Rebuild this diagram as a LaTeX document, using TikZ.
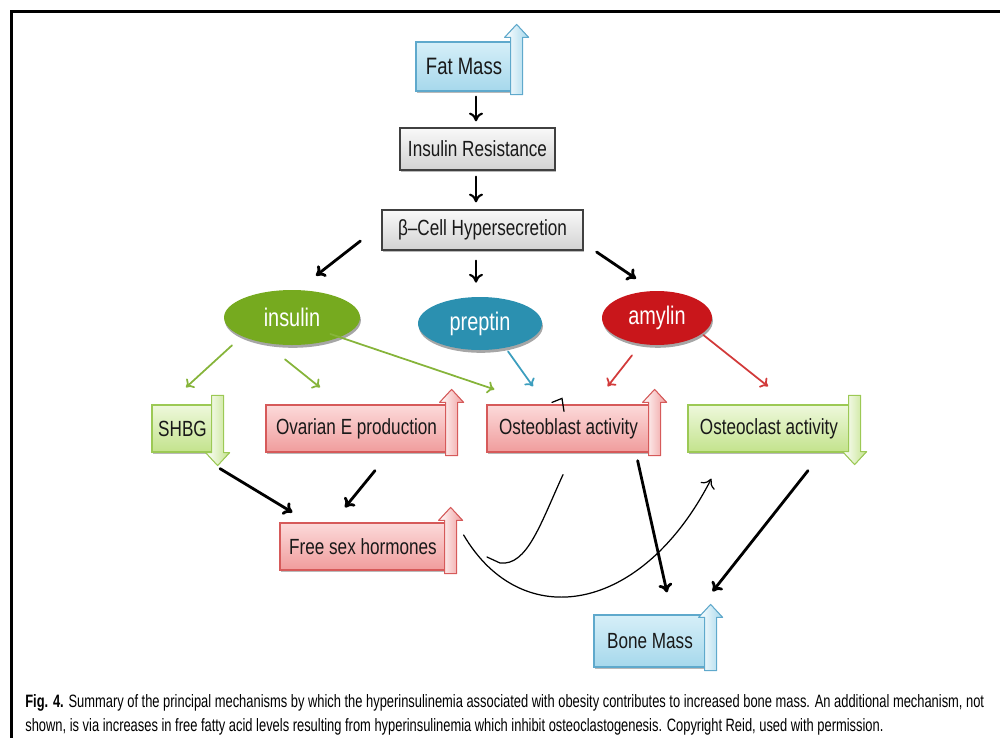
\documentclass[tikz,border=0pt]{standalone}
\usepackage{fontspec}
\newfontfamily\cajafont{Liberation Sans}[FakeStretch=0.78]
\newfontfamily\piefont{Liberation Sans}[FakeStretch=0.72]
\usetikzlibrary{calc,shapes.geometric,shadows,arrows.meta}

\definecolor{azulb}{HTML}{5FA9CC}
\definecolor{azulc}{HTML}{D6EFF8}
\definecolor{azuld}{HTML}{A6D8EC}
\definecolor{grisb}{HTML}{404040}
\definecolor{verdeb}{HTML}{9CC955}
\definecolor{verdec}{HTML}{EEF8DC}
\definecolor{verded}{HTML}{C3E38C}
\definecolor{rojob}{HTML}{D65A5A}
\definecolor{rojoc}{HTML}{FCDADA}
\definecolor{rojod}{HTML}{F09C9C}
\definecolor{insul}{HTML}{76AA1F}
\definecolor{prept}{HTML}{2B90B0}
\definecolor{amyl}{HTML}{C9161B}
\definecolor{flverde}{HTML}{86B43A}
\definecolor{flazul}{HTML}{3C9EBE}
\definecolor{flrojo}{HTML}{D23A3A}

\tikzset{
  caja/.style={rectangle, line width=0.7pt, inner sep=0pt,
    font=\cajafont\fontsize{12.5}{14}\selectfont, text=black!90,
    drop shadow={shadow xshift=0.6pt, shadow yshift=-1.4pt, opacity=0.55}},
  cajagris/.style={caja, draw=grisb, top color=gray!5, bottom color=gray!35},
  cajaazul/.style={caja, draw=azulb, top color=azulc, bottom color=azuld},
  cajaverde/.style={caja, draw=verdeb, top color=verdec, bottom color=verded},
  cajaroja/.style={caja, draw=rojob, top color=rojoc, bottom color=rojod},
  bola/.style={ellipse, inner sep=0pt, text=white,
    font=\cajafont\fontsize{14.5}{16}\selectfont,
    drop shadow={shadow xshift=0.5pt, shadow yshift=-1.6pt, opacity=0.7}},
  tam/.style 2 args={minimum width=#1*0.02cm, minimum height=#2*0.02cm},
  flecha/.style={-{To[length=5pt,width=8pt]}, line width=1.6pt},
  fina/.style={-{To[length=4pt,width=7pt]}, line width=1pt},
  banda/.style={line width=0.6pt, line join=round},
}

% flecha de bloque pegada al lado derecho de una caja
\newcommand{\subida}[3]{%
  \filldraw[#2] ($(#1.south east)+(-2,3)$) -- ($(#1.north east)+(-2,13-#3)$)
    -- ++(-6,0) -- ($(#1.north east)+(4,-#3)$) -- ($(#1.north east)+(16,13-#3)$)
    -- ++(-6,0) -- ($(#1.south east)+(10,3)$) -- cycle;}
\newcommand{\bajada}[3]{%
  \filldraw[#2] ($(#1.north east)+(-2,-9)$) -- ($(#1.south east)+(-2,#3-13)$)
    -- ++(-6,0) -- ($(#1.south east)+(4,#3)$) -- ($(#1.south east)+(16,#3-13)$)
    -- ++(-6,0) -- ($(#1.north east)+(10,-9)$) -- cycle;}

\begin{document}
\begin{tikzpicture}[x=0.02cm, y=-0.02cm, line cap=round]
  \useasboundingbox (0,0) rectangle (1000,737);
  % el marco
  \draw[line width=2pt] (11.5,740) -- (11.5,11.5) -- (1003,11.5);

  % la cadena de arriba
  \node[cajaazul, tam={96}{49}] (fat) at (464,66.5) {\fontsize{13.5}{15}\selectfont Fat Mass};
  \node[cajagris, tam={155}{42}] (ir) at (477.5,149) {Insulin Resistance};
  \node[cajagris, tam={201}{40}] (beta) at (482.5,230) {β–Cell Hypersecretion};
  \subida{fat}{banda, draw=azulb, left color=white, right color=azuld}{17}

  % las tres hormonas
  \node[bola, fill=insul, tam={136}{55}] (insulin) at (292,317.5) {insulin};
  \node[bola, fill=prept, tam={124}{53}] (preptin) at (480,323.5) {preptin};
  \node[bola, fill=amyl, tam={110}{54}] (amylin) at (657,318) {amylin};

  % la fila de las cajas
  \node[cajaverde, tam={61}{47}] (shbg) at (182.5,428.5) {SHBG};
  \node[cajaroja, tam={181}{47}] (ovar) at (356.5,428.5) {Ovarian E production};
  \node[cajaroja, tam={163}{47}] (oblast) at (568.5,428.5) {Osteoblast activity};
  \node[cajaverde, tam={162}{47}] (oclast) at (769,428.5) {Osteoclast activity};
  \node[cajaroja, tam={166}{47}] (fsh) at (363,546.5) {Free sex hormones};
  \node[cajaazul, tam={112}{52}] (bone) at (650,641) {Bone Mass};
  \bajada{shbg}{banda, draw=verdeb, left color=white, right color=verded}{13}
  \subida{ovar}{banda, draw=rojob, left color=white, right color=rojod}{15}
  \subida{oblast}{banda, draw=rojob, left color=white, right color=rojod}{15}
  \bajada{oclast}{banda, draw=verdeb, left color=white, right color=verded}{12}
  \subida{fsh}{banda, draw=rojob, left color=white, right color=rojod}{15}
  \subida{bone}{banda, draw=azulb, left color=white, right color=azuld}{10}

  % flechas negras
  \draw[flecha, line width=1.2pt] ($(fat.south)+(12,5)$) -- ($(ir.north)+(-1.5,-6)$);
  \draw[flecha, line width=1.2pt] ($(ir.south)+(-1.5,6)$) -- ($(beta.north)+(-6.5,-7)$);
  \draw[flecha] ($(beta.west)+(-21,11)$) -- ($(insulin.north)+(24,-14)$);
  \draw[flecha, line width=1.2pt] ($(beta.south)+(-6.5,10)$) -- ($(preptin.north)+(-4,-14)$);
  \draw[flecha] ($(beta.east)+(13,22)$) -- ($(amylin.north)+(-21,-12)$);

  % flechas de color
  \draw[fina, draw=flverde] ($(insulin.south)+(-60,0)$) -- ($(shbg.north)+(3.5,-17)$);
  \draw[fina, draw=flverde] ($(insulin.south)+(-7,14)$) -- ($(ovar.north)+(-36.5,-17)$);
  \draw[fina, draw=flverde] ($(insulin.east)+(-30,16.5)$) -- ($(oblast.north west)+(8,-15)$);
  \draw[fina, draw=flazul] ($(preptin.south)+(28,1)$) -- ($(oblast.north)+(-35.5,-18)$);
  \draw[fina, draw=flrojo] ($(amylin.south)+(-25,10)$) -- ($(oblast.north east)+(-43,-18)$);
  \draw[fina, draw=flrojo] ($(amylin.east)+(-9,17)$) -- ($(oclast.north)+(-1,-18)$);

  % abajo
  \draw[flecha] ($(shbg.south)+(37.5,16)$) -- ($(fsh.north west)+(13,-10)$);
  \draw[flecha] ($(ovar.south)+(18.5,18)$) -- ($(fsh.north)+(-18,-15)$);
  \draw[flecha] ($(oblast.south east)+(-13,8)$) -- ($(bone.north)+(17,-22)$);
  \draw[flecha] ($(oclast.south)+(39,18)$) -- ($(bone.north east)+(6,-23)$);

  % las curvas finas
  \draw[line width=0.7pt, -{To[length=5pt,width=9pt]}] ($(fsh.east)+(17,-11.5)$)
    .. controls (522,634) and (642,614) .. ($(oclast.south west)+(24,26)$);
  \draw[line width=0.7pt] ($(oblast.south)+(-5.5,22)$)
    .. controls (540,525) and (527,566) .. (500,563) -- (487,557);
  \draw[line width=0.7pt] ($(oblast.north)+(-16.5,-2)$) -- ++(10,-4) -- ++(2,13);

  % el pie
  \node[anchor=base west, align=left, inner sep=0pt,
    font=\piefont\fontsize{10.2}{13.6}\selectfont] (pie) at (25,731)
    {\textbf{Fig. 4.} Summary of the principal mechanisms by which the hyperinsulinemia associated with obesity contributes to increased bone mass. An additional mechanism, not\\
     shown, is via increases in free fatty acid levels resulting from hyperinsulinemia which inhibit osteoclastogenesis. Copyright Reid, used with permission.};
\end{tikzpicture}
\end{document}
